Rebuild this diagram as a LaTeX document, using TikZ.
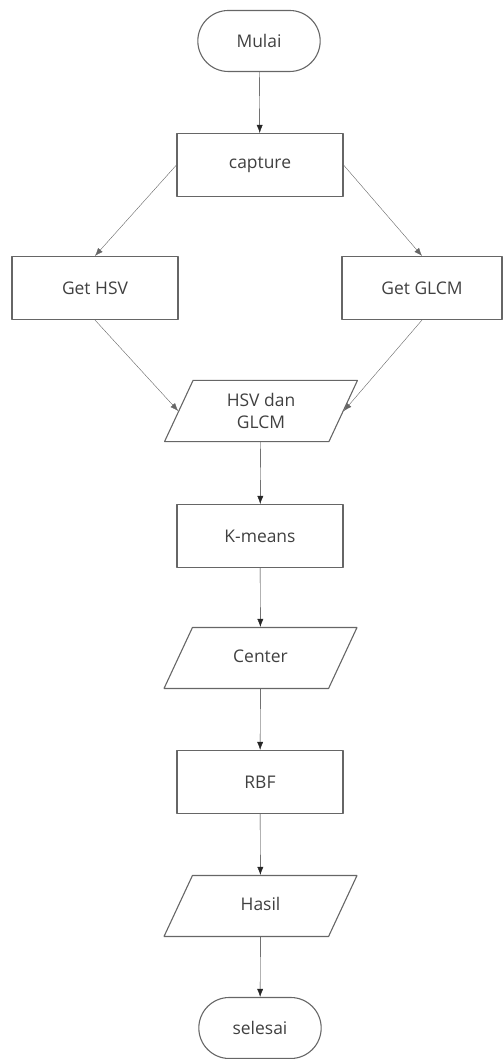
\documentclass[tikz,border=0pt]{standalone}
\usepackage{fontspec}
\setmainfont{Open Sans}
\usepackage{tikz}
\usetikzlibrary{shapes}
\usetikzlibrary{arrows.meta}

\begin{document}
\begin{tikzpicture}[>={Latex[length=8bp,width=6bp]},line join=bevel,
  every node/.style={font=\fontsize{17.5}{21}\selectfont,text=textcol},
  prosesbox/.style={draw=linecol,line width=1.1bp,rectangle,minimum width=166bp,minimum height=63bp},
  terminal/.style={draw=linecol,line width=1.1bp,rounded rectangle,minimum width=129bp,minimum height=61bp},
  datain/.style={draw=linecol,line width=1.1bp,trapezium,trapezium left angle=65,trapezium right angle=115,
    trapezium stretches body,minimum width=193bp,inner xsep=0bp,inner ysep=22bp,
    text height=13bp,text depth=4bp,align=center},
]
%%
  \definecolor{linecol}{rgb}{0.4,0.4,0.4};
  \definecolor{textcol}{rgb}{0.25,0.25,0.25};
  \definecolor{strokecolor}{rgb}{0.15,0.15,0.15};
  \useasboundingbox (0.0bp,0.0bp) rectangle (503.0bp,1059.0bp);
  \node (mulai) at (259.0bp,1018.0bp) [terminal] {Mulai};
  \node (capture) at (260.0bp,894.0bp) [prosesbox] {capture};
  \node (hsv) at (95.0bp,771.0bp) [prosesbox] {Get HSV};
  \node (glcm) at (422.0bp,771.0bp) [prosesbox,minimum width=160bp] {Get GLCM};
  \node (fitur) at (261.0bp,648.0bp) [datain,text height=,text depth=,inner ysep=12.5bp] {HSV dan\\[2bp]GLCM};
  \node (kmeans) at (260.0bp,523.0bp) [prosesbox] {K-means};
  \node (center) at (260.5bp,401.0bp) [datain] {Center};
  \node (rbf) at (260.0bp,277.0bp) [prosesbox] {RBF};
  \node (hasil) at (260.5bp,153.0bp) [datain] {Hasil};
  \node (selesai) at (260.0bp,31.0bp) [terminal] {selesai};
  \draw [strokecolor,->] (mulai) -- (capture);
  \draw [linecol,->] (capture.west) -- (hsv.north);
  \draw [linecol,->] (capture.east) -- (glcm.north);
  \draw [linecol,->] (hsv.south) -- (fitur.west);
  \draw [linecol,->] (glcm.south) -- (fitur.east);
  \draw [strokecolor,->] (fitur) -- (kmeans);
  \draw [strokecolor,->] (kmeans) -- (center);
  \draw [strokecolor,->] (center) -- (rbf);
  \draw [strokecolor,->] (rbf) -- (hasil);
  \draw [strokecolor,->] (hasil) -- (selesai);
%
\end{tikzpicture}
\end{document}
